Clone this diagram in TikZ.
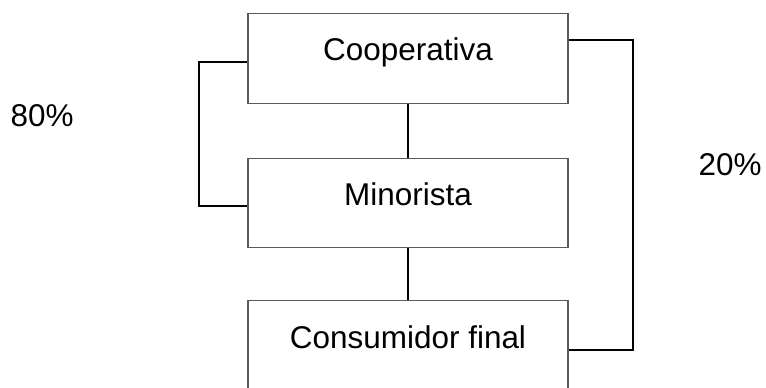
\documentclass[tikz,border=0pt]{standalone}
\usepackage{fontspec}
\setmainfont{Liberation Sans}

\tikzset{every picture/.style={line width=0.75pt}}
\tikzset{
  caja/.style={draw={rgb, 255:red, 90; green, 90; blue, 90 }, line width=0.9pt, minimum width=240pt, minimum height=68pt, inner sep=0pt, text height=14pt, text depth=11pt, font=\fontsize{23.6}{28}\selectfont},
  enlace/.style={draw=black, line width=1.4pt},
  porcentaje/.style={inner sep=0.75pt, font=\fontsize{23.6}{28}\selectfont}
}

\begin{document}
\begin{tikzpicture}[x=0.75pt,y=0.75pt,yscale=-1,xscale=1]
\useasboundingbox (0,0) rectangle (766,388);

%Shape: Rectangle [id:coop]
\node [caja] (coop) at (408,58.5) {Cooperativa};
%Shape: Rectangle [id:mino]
\node [caja, minimum height=67pt] (mino) at (408,203) {Minorista};
%Shape: Rectangle [id:cons]
\node [caja] (cons) at (408,346) {Consumidor final};

%Straight Lines [id:centro]
\draw [enlace] (coop.south) -- (mino.north) ;
\draw [enlace] (mino.south) -- (cons.north) ;
%Connector [id:izq]
\draw [enlace] ([yshift=2.5pt]coop.west) -- ++(-48,0) |- ([yshift=2.5pt]mino.west) ;
%Connector [id:der]
\draw [enlace] ([yshift=-13.9pt]coop.east) -- ++(64,0) |- ([yshift=3pt]cons.east) ;

% Text Node
\node [porcentaje] (ochenta) at (42,116) {80\%};
% Text Node
\node [porcentaje] (veinte) at (730,165) {20\%};

\end{tikzpicture}
\end{document}
